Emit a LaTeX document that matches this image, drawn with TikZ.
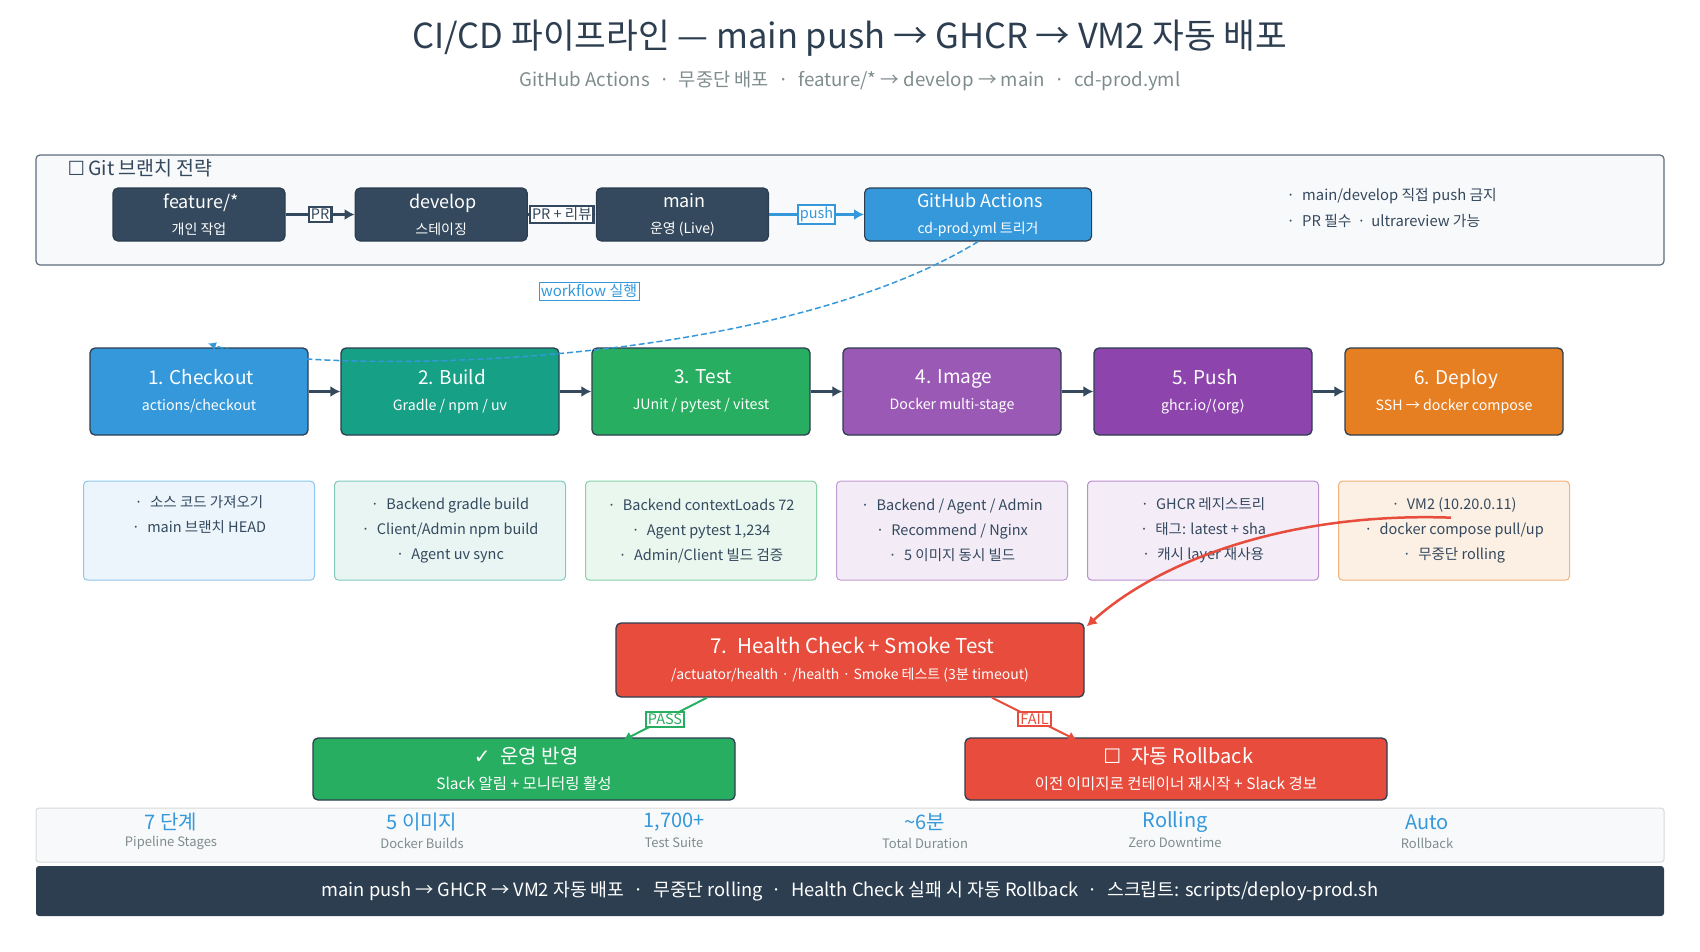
\documentclass[tikz,border=0pt]{standalone}
\usepackage{fontspec}
\setmainfont{Noto Sans CJK KR}
\newfontfamily\symfont{DejaVu Sans}
\usepackage{xcolor}
\usetikzlibrary{arrows.meta,positioning,calc}

\definecolor{navy}{HTML}{2C3E50}
\definecolor{slate}{HTML}{34495E}
\definecolor{cblue}{HTML}{3498DB}
\definecolor{cteal}{HTML}{16A085}
\definecolor{cgreen}{HTML}{27AE60}
\definecolor{cpurple}{HTML}{9B59B6}
\definecolor{cviolet}{HTML}{8E44AD}
\definecolor{corange}{HTML}{E67E22}
\definecolor{cred}{HTML}{E74C3C}
\definecolor{cgray}{HTML}{7F8C8D}
\definecolor{panel}{HTML}{F8F9FA}

\newcommand{\fsz}[2]{\fontsize{#1}{#2}\selectfont}

\begin{document}
\begin{tikzpicture}[
    x=1pt, y=-1pt,
    >={Latex[length=10pt,width=11pt]},
    every node/.style={text=slate},
    stage/.style={draw=navy, line width=1.3pt, rounded corners=5pt,
                  minimum width=218pt, minimum height=87pt, align=center,
                  text=white, font=\fsz{14.2}{26}},
    detail/.style={rounded corners=4pt, line width=1pt, minimum width=231pt,
                   minimum height=99pt, align=center, font=\fsz{14.5}{25}},
    branch/.style={draw=navy, line width=1.2pt, rounded corners=5pt,
                   minimum width=172pt, minimum height=53pt, align=center,
                   fill=slate, text=white, font=\fsz{14}{26}},
    tag/.style={draw, fill=white, inner sep=2pt, font=\fsz{14.5}{16}},
    flow/.style={->, line width=3pt, draw=slate},
    result/.style={draw=navy, line width=1.3pt, rounded corners=5pt,
                   minimum width=422pt, minimum height=62pt, align=center,
                   text=white, font=\fsz{15.5}{26}},
    statval/.style={text=cblue, font=\fsz{20}{22}},
    statlbl/.style={text=cgray, font=\fsz{13}{15}},
]
\useasboundingbox (0,0) rectangle (1700,951);

% --- Title ---
\node[text=navy, font=\fsz{34.5}{38}] (title) at (850,38)
    {CI/CD 파이프라인 — main push → GHCR → VM2 자동 배포};
\node[text=cgray, font=\fsz{18.7}{20}] (subtitle) at (850,81)
    {GitHub Actions\enspace·\enspace 무중단 배포\enspace·\enspace
     feature/* → develop → main\enspace·\enspace cd-prod.yml};

% --- Git branch strategy ---
\node[draw=slate!80, fill=panel, line width=1.2pt, rounded corners=4pt,
      minimum width=1628pt, minimum height=110pt] (git) at (850,210) {};
\node[anchor=west, font=\fsz{19.5}{22}] (gitlbl) at (64,168)
    {{\symfont ☐}\,Git 브랜치 전략};

\node[branch] (feature) at (199,214.5)
    {{\fsz{18}{18} feature/*}\\개인 작업};
\node[branch, right=69pt of feature] (develop)
    {{\fsz{18}{18} develop}\\스테이징};
\node[branch, right=68pt of develop] (main)
    {{\fsz{18}{18} main}\\운영 (Live)};
\node[branch, fill=cblue, minimum width=227pt, right=95pt of main] (gha)
    {{\fsz{18}{18} GitHub Actions}\\cd-prod.yml 트리거};

\draw[->, line width=2.5pt, slate] (feature) -- (develop)
    node[tag, draw=slate, midway] {PR};
\draw[->, line width=2.5pt, slate] (develop) -- (main)
    node[tag, draw=slate, midway] {PR + 리뷰};
\draw[->, line width=2.5pt, cblue] (main) -- (gha)
    node[tag, draw=cblue, text=cblue, midway] {push};

\node[anchor=west, font=\fsz{14.8}{18}] (rule1) at (1283,196)
    {·\enspace main/develop 직접 push 금지};
\node[anchor=west, font=\fsz{14.8}{18}] (rule2) at (1283,221)
    {·\enspace PR 필수 \,·\, ultrareview 가능};

% --- Pipeline stages ---
\node[stage, fill=cblue] (s1) at (199,391.5)
    {{\fsz{19}{19} 1. Checkout}\\actions/checkout};
\node[stage, fill=cteal, right=31.7pt of s1] (s2)
    {{\fsz{19}{19} 2. Build}\\Gradle / npm / uv};
\node[stage, fill=cgreen, right=31.7pt of s2] (s3)
    {{\fsz{19}{19} 3. Test}\\JUnit / pytest / vitest};
\node[stage, fill=cpurple, right=31.7pt of s3] (s4)
    {{\fsz{19}{19} 4. Image}\\Docker multi-stage};
\node[stage, fill=cviolet, right=31.7pt of s4] (s5)
    {{\fsz{19}{19} 5. Push}\\ghcr.io/{\symfont ⟨}org{\symfont ⟩}};
\node[stage, fill=corange, right=31.7pt of s5] (s6)
    {{\fsz{19}{19} 6. Deploy}\\SSH → docker compose};

\draw[flow] (s1) -- (s2);
\draw[flow] (s2) -- (s3);
\draw[flow] (s3) -- (s4);
\draw[flow] (s4) -- (s5);
\draw[flow] (s5) -- (s6);

% --- Trigger ---
\draw[->, cblue, line width=1.5pt, dash pattern=on 6pt off 3pt,
      >={Latex[length=8pt,width=8pt]}]
    (gha.south) .. controls (760,375) and (300,375) .. ([xshift=9pt,yshift=4pt]s1.north);
\node[tag, draw=cblue, text=cblue, font=\fsz{15}{17}] (wf) at (589,291)
    {workflow 실행};

% --- Stage details ---
\node[detail, fill=cblue!10, draw=cblue!55, below=45pt of s1] (d1)
    {·\enspace 소스 코드 가져오기\\·\enspace main 브랜치 HEAD\\\strut};
\node[detail, fill=cteal!10, draw=cteal!55, below=45pt of s2] (d2)
    {·\enspace Backend gradle build\\·\enspace Client/Admin npm build\\
     ·\enspace Agent uv sync};
\node[detail, fill=cgreen!10, draw=cgreen!55, below=45pt of s3] (d3)
    {·\enspace Backend contextLoads 72\\·\enspace Agent pytest 1,234\\
     ·\enspace Admin/Client 빌드 검증};
\node[detail, fill=cpurple!12, draw=cpurple!60, below=45pt of s4] (d4)
    {·\enspace Backend / Agent / Admin\\·\enspace Recommend / Nginx\\
     ·\enspace 5 이미지 동시 빌드};
\node[detail, fill=cviolet!10, draw=cviolet!60, below=45pt of s5] (d5)
    {·\enspace GHCR 레지스트리\\·\enspace 태그: latest + sha\\
     ·\enspace 캐시 layer 재사용};
\node[detail, fill=corange!12, draw=corange!60, below=45pt of s6] (d6)
    {·\enspace VM2 (10.20.0.11)\\·\enspace docker compose pull/up\\
     ·\enspace 무중단 rolling};

% --- Health check ---
\node[result, fill=cred, minimum width=468pt, minimum height=74pt,
      font=\fsz{14}{26}] (hc) at (850,660)
    {{\fsz{20.5}{21} 7.\enspace Health Check + Smoke Test}\\
     /actuator/health · /health · Smoke 테스트 (3분 timeout)};
\coordinate (deployed) at ($(d6.center)+(-3,-13)$);
\draw[->, cred, line width=2.5pt] (deployed)
    .. controls (1290,512) and (1160,560) .. ([xshift=2pt,yshift=-4pt]hc.north east);

\node[result, fill=cgreen] (pass) at (524,769)
    {{\fsz{20}{20} {\symfont ✓}\enspace 운영 반영}\\Slack 알림 + 모니터링 활성};
\node[result, fill=cred] (rollback) at (1176,769)
    {{\fsz{20}{20} {\symfont ☐}\enspace 자동 Rollback}\\
     이전 이미지로 컨테이너 재시작 + Slack 경보};

\draw[->, cgreen, line width=2pt, >={Latex[length=9pt,width=10pt]}]
    ([xshift=-143pt]hc.south) -- ([xshift=99pt,yshift=-3pt]pass.north)
    node[tag, draw=cgreen, text=cgreen, midway] {PASS};
\draw[->, cred, line width=2pt, >={Latex[length=9pt,width=10pt]}]
    ([xshift=142pt]hc.south) -- ([xshift=-99pt,yshift=-3pt]rollback.north)
    node[tag, draw=cred, text=cred, midway] {FAIL};

% --- Stats ---
\node[draw=black!15, fill=panel, line width=1pt, rounded corners=3pt,
      minimum width=1628pt, minimum height=54pt] (stats) at (850,835) {};
\node[statval] (v1) at (171,822) {7 단계};
\node[statlbl] (l1) at (171,843) {Pipeline Stages};
\node[statval] (v2) at (422,822) {5 이미지};
\node[statlbl] (l2) at (422,843) {Docker Builds};
\node[statval] (v3) at (674,822) {1,700+};
\node[statlbl] (l3) at (674,843) {Test Suite};
\node[statval] (v4) at (925,822) {\textasciitilde 6분};
\node[statlbl] (l4) at (925,843) {Total Duration};
\node[statval] (v5) at (1175,822) {Rolling};
\node[statlbl] (l5) at (1175,843) {Zero Downtime};
\node[statval] (v6) at (1427,822) {Auto};
\node[statlbl] (l6) at (1427,843) {Rollback};

% --- Footer ---
\node[fill=navy, rounded corners=3pt, minimum width=1628pt,
      minimum height=50pt, text=white, font=\fsz{18.3}{20}] (footer) at (850,891)
    {main push → GHCR → VM2 자동 배포\enspace·\enspace 무중단 rolling\enspace·\enspace
     Health Check 실패 시 자동 Rollback\enspace·\enspace 스크립트: scripts/deploy-prod.sh};

\end{tikzpicture}
\end{document}
